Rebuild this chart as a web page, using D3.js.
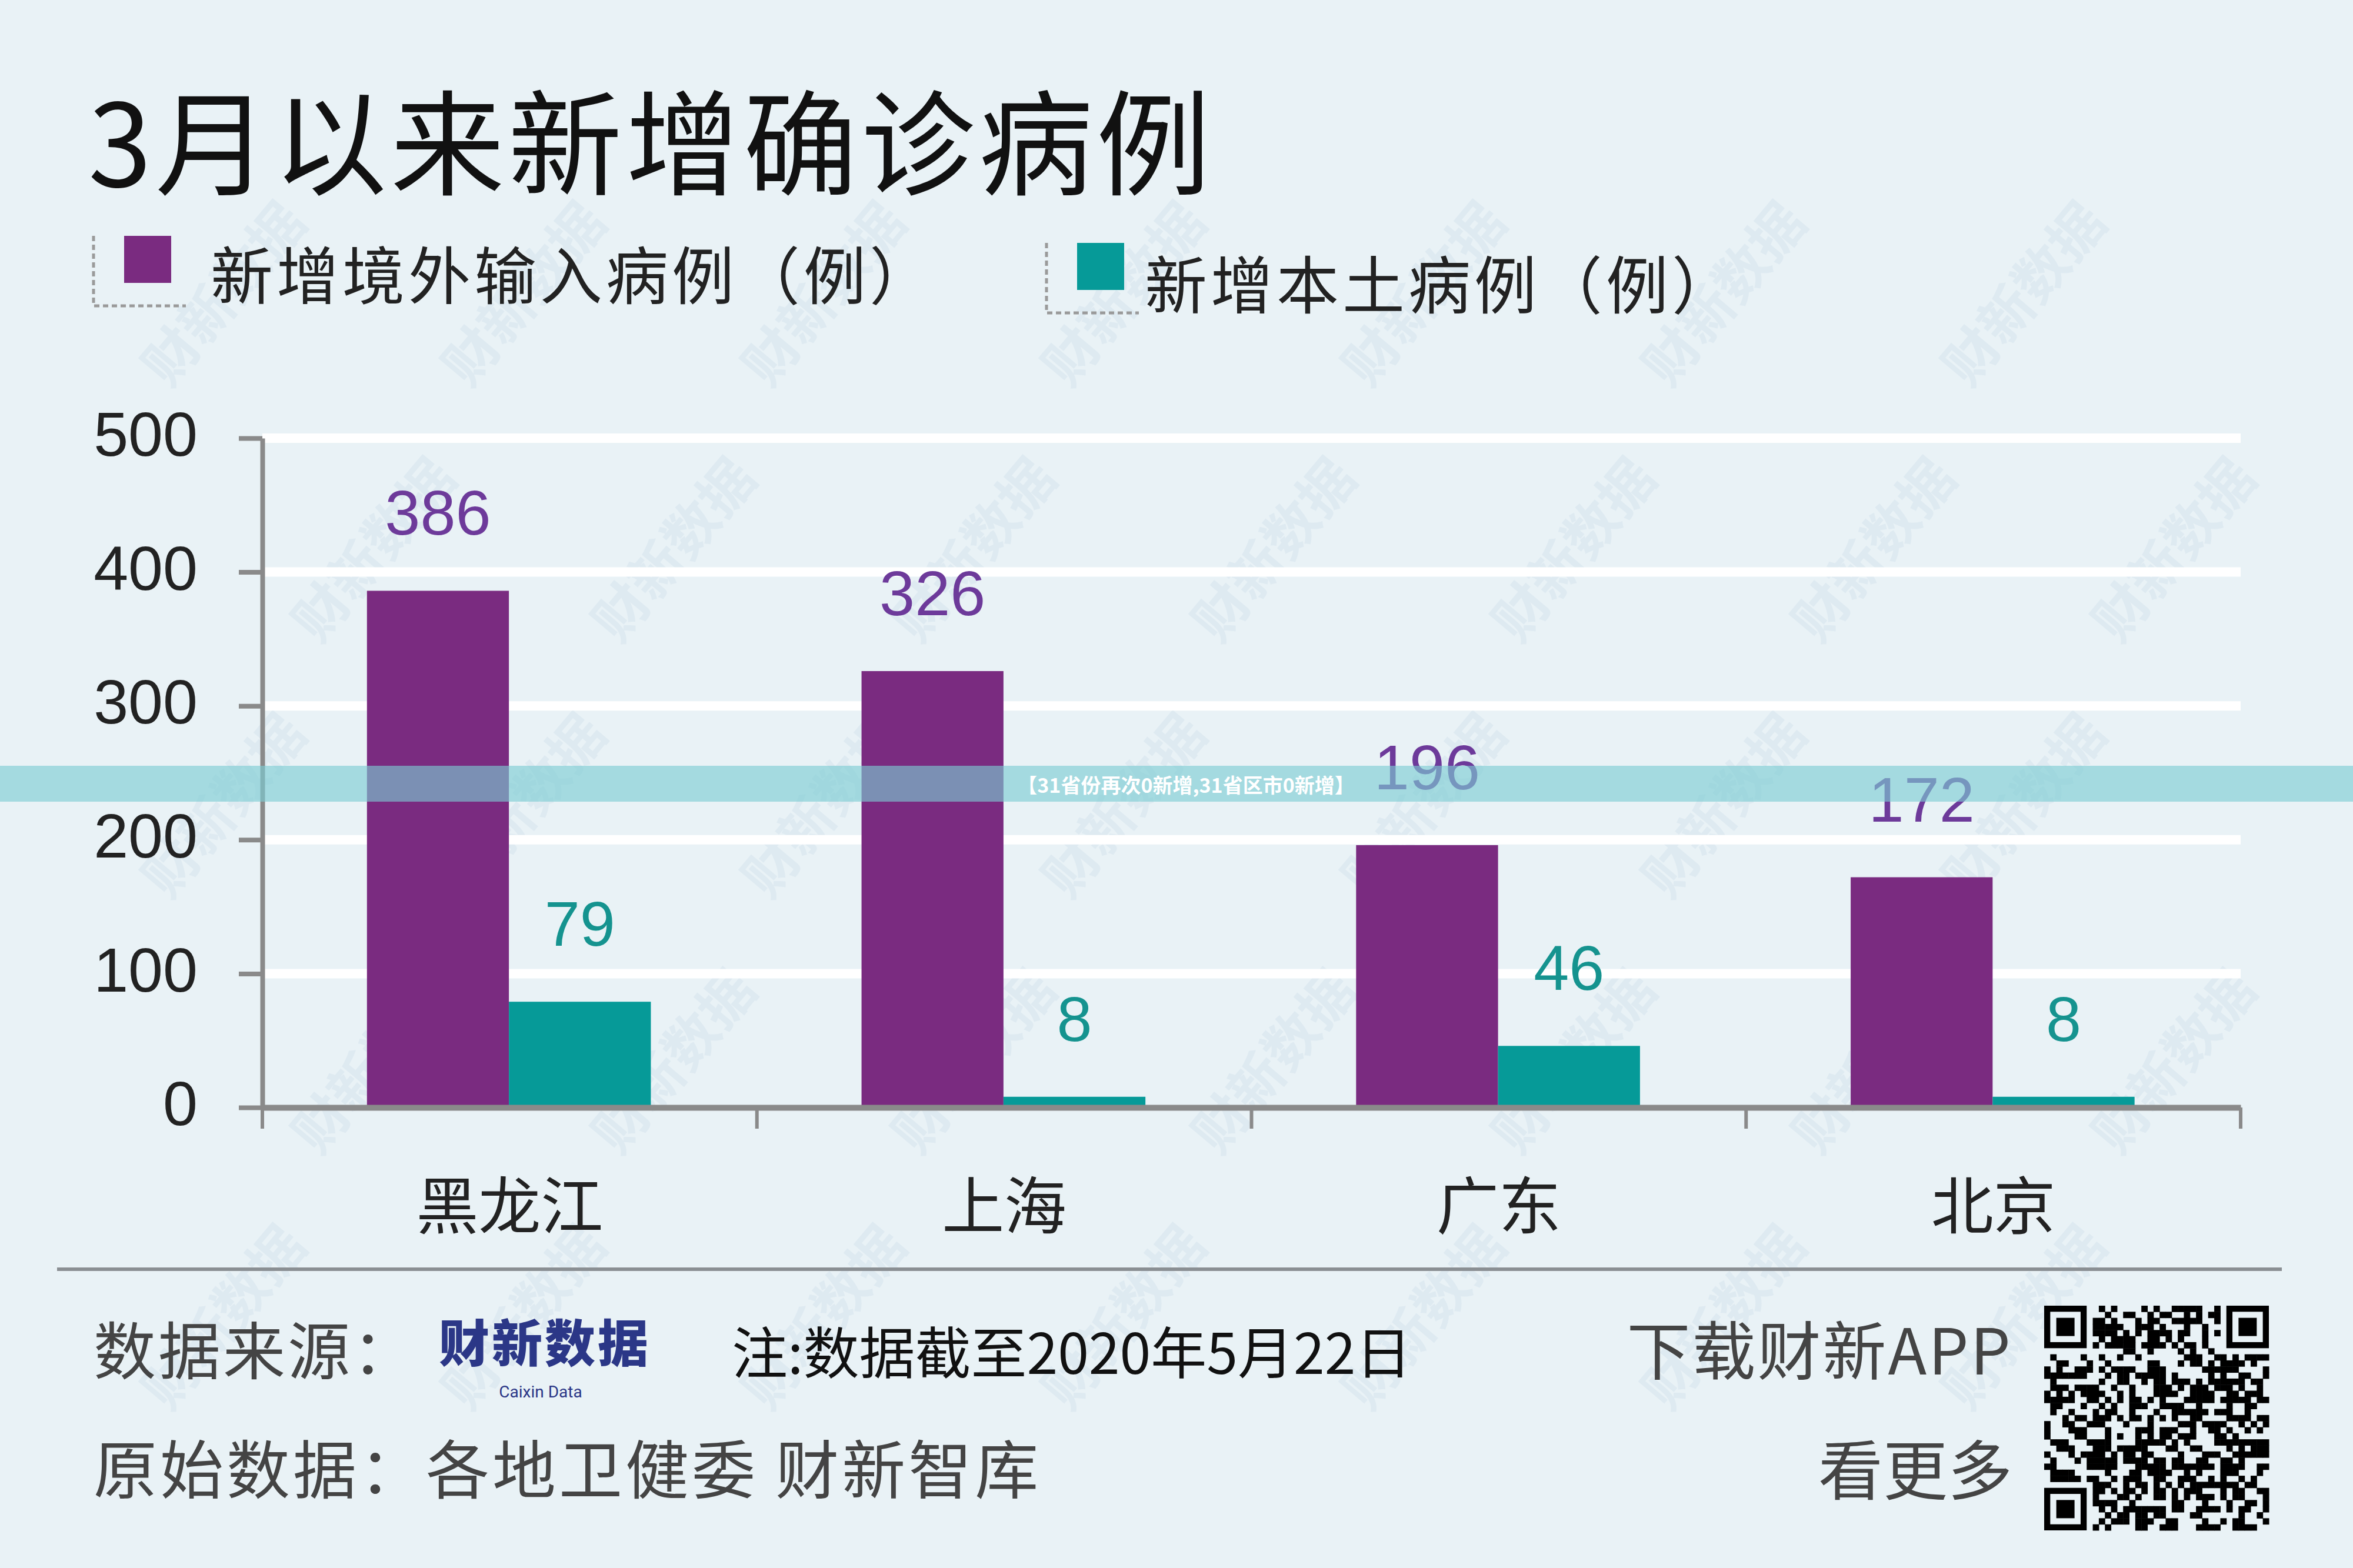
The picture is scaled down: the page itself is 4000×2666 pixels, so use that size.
<!DOCTYPE html>
<html>
<head>
<meta charset="utf-8">
<script src="https://cdn.jsdelivr.net/npm/d3@7"></script>
<style>
  html, body { margin: 0; padding: 0; background: #e9f2f6; }
  svg { display: block; }
  .cjk { font-family: "Noto Sans CJK SC", "Noto Sans", sans-serif; }
  .num { font-family: "Liberation Sans", Arial, sans-serif; }
</style>
</head>
<body>
<svg id="chart" width="4000" height="2666"></svg>
<script>
// chart data
const provinces = ["黑龙江", "上海", "广东", "北京"];
const importedCases = [386, 326, 196, 172];
const localCases = [79, 8, 46, 8];
const yTicks = [0, 100, 200, 300, 400, 500];
const seriesKeys = ["imported", "local"];
const seriesNames = ["新增境外输入病例（例）", "新增本土病例（例）"];
const seriesColors = ["#7a2b80", "#069a98"];
const labelColors = ["#6d3a9a", "#15938f"];

const width = 4000;
const height = 2666;
const svg = d3.select("#chart");

svg.append("rect")
  .attr("width", width)
  .attr("height", height)
  .attr("fill", "#e9f2f6");

// faint diagonal watermarks, only where they fit inside the page
const wm = svg.append("g").attr("class", "watermarks");
for (let row = 0; row < 8; row++) {
  for (let col = 0; col < 9; col++) {
    const wx = col * 510 + (row % 2 ? 255 : 0) + 120;
    const wy = row * 435 + 60;
    if (wx < 190 || wx > 3810 || wy < 190 || wy > 2480) continue;
    wm.append("text")
      .attr("class", "cjk")
      .attr("transform", `translate(${wx},${wy}) rotate(-50)`)
      .attr("text-anchor", "middle")
      .attr("dominant-baseline", "central")
      .attr("font-size", 92)
      .attr("font-weight", 700)
      .attr("fill", "#b9d0e4")
      .attr("opacity", 0.22)
      .text("财新数据");
  }
}

// title
svg.append("text")
  .attr("class", "cjk")
  .attr("x", 150)
  .attr("y", 232)
  .attr("dominant-baseline", "central")
  .attr("font-size", 194)
  .attr("letter-spacing", 6)
  .attr("fill", "#111")
  .text("3月以来新增确诊病例");

// legend
const legendPos = [
  { bx: 159, by: 401, tx: 358, ty: 462 },
  { bx: 1779, by: 413, tx: 1946, ty: 478 }
];
const legend = svg.append("g").selectAll("g")
  .data(seriesKeys)
  .join("g");

legend.append("path")
  .attr("d", (d, i) => {
    const p = legendPos[i];
    return `M${p.bx},${p.by}V${p.by + 119}H${p.bx + 157}`;
  })
  .attr("fill", "none")
  .attr("stroke", "#9a9a9a")
  .attr("stroke-width", 5)
  .attr("stroke-dasharray", "9 6");

legend.append("rect")
  .attr("x", (d, i) => legendPos[i].bx + 52)
  .attr("y", (d, i) => legendPos[i].by)
  .attr("width", 80)
  .attr("height", 80)
  .attr("fill", (d, i) => seriesColors[i]);

legend.append("text")
  .attr("class", "cjk")
  .attr("x", (d, i) => legendPos[i].tx)
  .attr("y", (d, i) => legendPos[i].ty)
  .attr("dominant-baseline", "central")
  .attr("font-size", 106)
  .attr("letter-spacing", 6)
  .attr("fill", "#222")
  .text((d, i) => seriesNames[i]);

// scales
const x0 = d3.scaleBand().domain(provinces).range([446, 3809]);
const x1 = d3.scaleBand()
  .domain(seriesKeys)
  .range([x0.bandwidth() * 0.2115, x0.bandwidth() * 0.7855]);
const y = d3.scaleLinear().domain([0, 500]).range([1883, 745]);

const rows = provinces.map((p, i) => ({
  province: p,
  values: [
    { key: "imported", value: importedCases[i], si: 0 },
    { key: "local", value: localCases[i], si: 1 }
  ]
}));

// white gridlines
svg.append("g")
  .selectAll("line")
  .data(yTicks.filter(t => t > 0))
  .join("line")
  .attr("x1", x0.range()[0])
  .attr("x2", x0.range()[1])
  .attr("y1", d => y(d))
  .attr("y2", d => y(d))
  .attr("stroke", "#ffffff")
  .attr("stroke-width", 16);

// bars
const groups = svg.append("g")
  .selectAll("g")
  .data(rows)
  .join("g")
  .attr("transform", d => `translate(${x0(d.province)},0)`);

groups.selectAll("rect")
  .data(d => d.values)
  .join("rect")
  .attr("x", d => x1(d.key))
  .attr("y", d => y(d.value))
  .attr("width", x1.bandwidth())
  .attr("height", d => y(0) - y(d.value))
  .attr("fill", d => seriesColors[d.si]);

groups.selectAll("text")
  .data(d => d.values)
  .join("text")
  .attr("class", "num")
  .attr("x", d => x1(d.key) + x1.bandwidth() / 2)
  .attr("y", d => y(d.value) - 95)
  .attr("text-anchor", "middle")
  .attr("font-size", 108)
  .attr("fill", d => labelColors[d.si])
  .text(d => d.value);

// y axis
const yAxis = svg.append("g")
  .attr("transform", `translate(${x0.range()[0]},0)`)
  .call(d3.axisLeft(y).tickValues(yTicks).tickSize(40).tickSizeOuter(0).tickPadding(70));
yAxis.select(".domain").attr("stroke", "#8a8a8a").attr("stroke-width", 8);
yAxis.selectAll(".tick line").attr("stroke", "#8a8a8a").attr("stroke-width", 8);
yAxis.selectAll(".tick text")
  .attr("class", "num")
  .attr("font-size", 106)
  .attr("fill", "#222")
  .attr("dy", "0.28em");

// x axis
const xAxis = svg.append("g")
  .attr("transform", `translate(0,${y(0)})`)
  .call(d3.axisBottom(x0).tickSize(0).tickSizeOuter(0).tickPadding(195));
xAxis.select(".domain").attr("stroke", "#8a8a8a").attr("stroke-width", 10);
xAxis.selectAll(".tick text")
  .attr("class", "cjk")
  .attr("font-size", 106)
  .attr("fill", "#222")
  .attr("dy", "0.1em");

const boundaries = provinces.map(p => x0(p)).concat([x0.range()[1]]);
xAxis.selectAll(".bound")
  .data(boundaries)
  .join("line")
  .attr("class", "bound")
  .attr("x1", d => d)
  .attr("x2", d => d)
  .attr("y1", 0)
  .attr("y2", 36)
  .attr("stroke", "#8a8a8a")
  .attr("stroke-width", 6);

// footer separator
svg.append("line")
  .attr("x1", 97).attr("x2", 3879)
  .attr("y1", 2158).attr("y2", 2158)
  .attr("stroke", "#8a8f93")
  .attr("stroke-width", 6);

const footer = svg.append("g").attr("class", "cjk");
footer.append("text")
  .attr("x", 159).attr("y", 2290)
  .attr("dominant-baseline", "central")
  .attr("font-size", 106).attr("fill", "#444")
  .attr("letter-spacing", 4)
  .text("数据来源：");

footer.append("text")
  .attr("x", 926).attr("y", 2278)
  .attr("text-anchor", "middle")
  .attr("dominant-baseline", "central")
  .attr("font-size", 86).attr("font-weight", 900)
  .attr("letter-spacing", 4)
  .attr("fill", "#2b3787")
  .text("财新数据");

footer.append("text")
  .attr("x", 919).attr("y", 2366)
  .attr("text-anchor", "middle")
  .attr("dominant-baseline", "central")
  .attr("font-family", "Roboto, 'Liberation Sans', sans-serif")
  .attr("font-size", 28).attr("fill", "#2b3787")
  .text("Caixin Data");

footer.append("text")
  .attr("x", 1244).attr("y", 2294)
  .attr("dominant-baseline", "central")
  .attr("font-size", 95).attr("fill", "#111")
  .text("注:数据截至2020年5月22日");

footer.append("text")
  .attr("x", 159).attr("y", 2492)
  .attr("dominant-baseline", "central")
  .attr("font-size", 108).attr("fill", "#444")
  .attr("letter-spacing", 5)
  .text("原始数据：各地卫健委 财新智库");

footer.append("text")
  .attr("x", 3421).attr("y", 2290)
  .attr("text-anchor", "end")
  .attr("dominant-baseline", "central")
  .attr("font-size", 108).attr("fill", "#444")
  .attr("letter-spacing", 3)
  .text("下载财新APP");

footer.append("text")
  .attr("x", 3421).attr("y", 2493)
  .attr("text-anchor", "end")
  .attr("dominant-baseline", "central")
  .attr("font-size", 110).attr("fill", "#444")
  .text("看更多");

// QR-style code block (decorative)
const qrN = 37, qrX = 3475, qrY = 2220, qrSize = 382;
const cell = qrSize / qrN;
const qr = svg.append("g");
function hashBit(r, c) {
  let h = (r * 73856093) ^ (c * 19349663) ^ 0x5bd1e995;
  h = Math.imul(h ^ (h >>> 15), 0x2c1b3c6d);
  h = Math.imul(h ^ (h >>> 12), 0x297a2d39);
  return ((h ^ (h >>> 15)) >>> 0) % 100 < 50;
}
function inFinder(r, c) {
  const spots = [[0, 0], [0, qrN - 7], [qrN - 7, 0]];
  return spots.some(([fr, fc]) => r >= fr - 1 && r <= fr + 7 && c >= fc - 1 && c <= fc + 7);
}
const cells = [];
for (let r = 0; r < qrN; r++) {
  for (let c = 0; c < qrN; c++) {
    if (!inFinder(r, c) && hashBit(r, c)) cells.push([r, c]);
  }
}
qr.selectAll(".m").data(cells).join("rect")
  .attr("class", "m")
  .attr("x", d => qrX + d[1] * cell)
  .attr("y", d => qrY + d[0] * cell)
  .attr("width", cell + 0.5)
  .attr("height", cell + 0.5)
  .attr("fill", "#000");
[[0, 0], [0, qrN - 7], [qrN - 7, 0]].forEach(([fr, fc]) => {
  const fx = qrX + fc * cell, fy = qrY + fr * cell;
  qr.append("rect").attr("x", fx).attr("y", fy).attr("width", 7 * cell).attr("height", 7 * cell).attr("fill", "#000");
  qr.append("rect").attr("x", fx + cell).attr("y", fy + cell).attr("width", 5 * cell).attr("height", 5 * cell).attr("fill", "#e9f2f6");
  qr.append("rect").attr("x", fx + 2 * cell).attr("y", fy + 2 * cell).attr("width", 3 * cell).attr("height", 3 * cell).attr("fill", "#000");
});

// overlaid news banner
svg.append("rect")
  .attr("x", 0).attr("y", 1302)
  .attr("width", width).attr("height", 61)
  .attr("fill", "rgb(123,204,211)")
  .attr("fill-opacity", 0.63);
svg.append("text")
  .attr("class", "cjk")
  .attr("x", 2016).attr("y", 1333)
  .attr("text-anchor", "middle")
  .attr("dominant-baseline", "central")
  .attr("font-size", 34).attr("font-weight", 700)
  .attr("fill", "#ffffff")
  .text("【31省份再次0新增,31省区市0新增】");
</script>
</body>
</html>
